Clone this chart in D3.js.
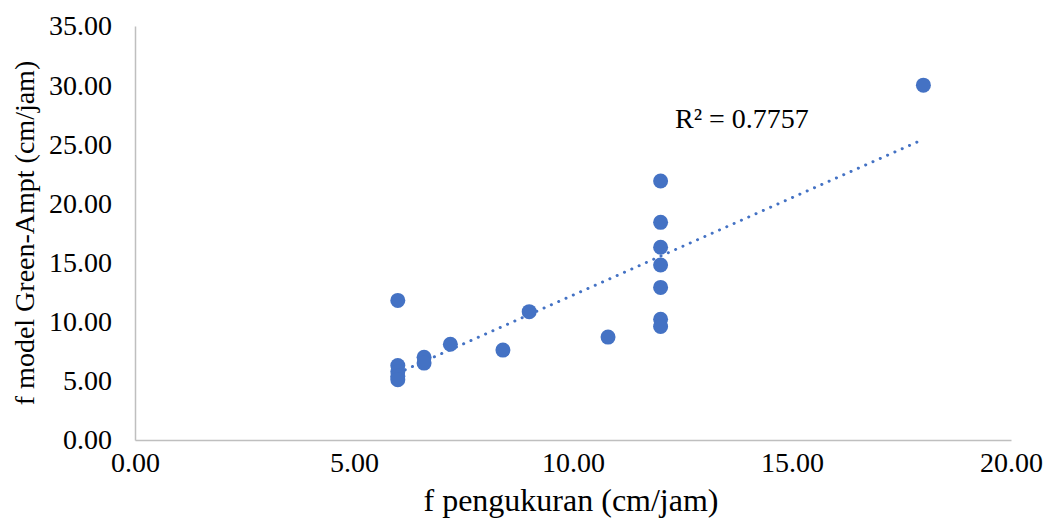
<!DOCTYPE html>
<head>
  <meta charset="utf-8">
  <script src="https://cdn.jsdelivr.net/npm/d3@7"></script>
  <style>
    body { margin: 0; background: #fff; }
    svg text { font-family: "Liberation Serif", "Times New Roman", "DejaVu Serif", serif !important; fill: #000; }
  </style>
</head>
<body>
<div id="container"></div>
<script>
  // measured (x) vs Green-Ampt model (y) infiltration, cm/jam
  const fMeasured = [6, 6, 6, 6, 6, 6.6, 6.6, 7.2, 8.4, 9, 10.8, 12, 12, 12, 12, 12, 12, 12, 18];
  const fModel = [11.8, 6.3, 5.8, 5.4, 5.1, 7.0, 6.5, 8.1, 7.6, 10.85, 8.7, 21.9, 18.4, 16.3, 14.8, 12.9, 10.2, 9.6, 30.0];
  const xTicks = [0, 5, 10, 15, 20];
  const yTicks = [0, 5, 10, 15, 20, 25, 30, 35];
  const r2Label = 'R² = 0.7757';

  const width = 1048, height = 523;
  const margin = {top: 26, right: 37, bottom: 83, left: 135};
  const blue = '#4472c4';

  const svg = d3.select('#container').append('svg')
    .attr('width', width)
    .attr('height', height)
    .attr('font-family', 'Liberation Serif');

  const x = d3.scaleLinear().domain([0, 20]).range([margin.left, width - margin.right]);
  const y = d3.scaleLinear().domain([0, 35]).range([height - margin.bottom, margin.top]);

  const fmt = d3.format('.2f');

  // x axis
  const gx = svg.append('g')
    .attr('transform', `translate(0,${height - margin.bottom})`)
    .call(d3.axisBottom(x).tickValues(xTicks).tickFormat(fmt).tickSize(0).tickPadding(12))
    .attr('font-family', null)
    .attr('font-size', 28);
  gx.select('.domain').attr('stroke', '#bfbfbf').attr('stroke-width', 1.5);

  // y axis
  const gy = svg.append('g')
    .attr('transform', `translate(${margin.left},0)`)
    .call(d3.axisLeft(y).tickValues(yTicks).tickFormat(fmt).tickSize(0).tickPadding(23))
    .attr('font-family', null)
    .attr('font-size', 28);
  gy.select('.domain').attr('stroke', '#bfbfbf').attr('stroke-width', 1.5);

  // linear trend line over the data range
  const mx = d3.mean(fMeasured), my = d3.mean(fModel);
  let sxy = 0, sxx = 0;
  fMeasured.forEach((v, i) => {
    sxy += (v - mx) * (fModel[i] - my);
    sxx += (v - mx) * (v - mx);
  });
  const slope = sxy / sxx, icept = my - slope * mx;
  const xr = d3.extent(fMeasured);

  svg.append('path')
    .attr('d', d3.line().x(d => x(d)).y(d => y(icept + slope * d))(xr))
    .attr('fill', 'none')
    .attr('stroke', blue)
    .attr('stroke-width', 3)
    .attr('stroke-linecap', 'round')
    .attr('stroke-dasharray', '0.1 7.9');

  // markers
  svg.append('g').selectAll('circle')
    .data(fMeasured.map((v, i) => [v, fModel[i]]))
    .join('circle')
      .attr('cx', d => x(d[0]))
      .attr('cy', d => y(d[1]))
      .attr('r', 7.5)
      .attr('fill', blue);

  svg.append('text')
    .attr('x', 675)
    .attr('y', 128)
    .attr('font-size', 28)
    .text(r2Label);

  // axis titles
  svg.append('text')
    .attr('x', 571)
    .attr('y', 511)
    .attr('text-anchor', 'middle')
    .attr('font-size', 32)
    .text('f pengukuran (cm/jam)');

  svg.append('text')
    .attr('transform', `translate(34,${(margin.top + height - margin.bottom) / 2}) rotate(-90)`)
    .attr('text-anchor', 'middle')
    .attr('font-size', 28)
    .text('f model Green-Ampt (cm/jam)');
</script>
</body>
